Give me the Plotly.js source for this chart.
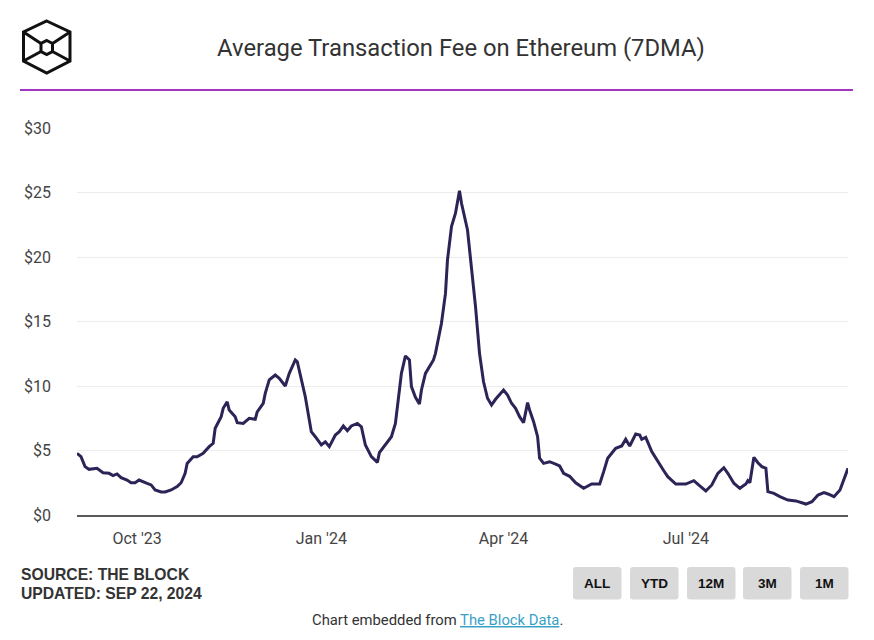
<!DOCTYPE html>
<html>
<head>
<meta charset="utf-8">
<script src="https://cdn.plot.ly/plotly-3.0.1.min.js"></script>
<style>
  html, body { margin: 0; padding: 0; background: #ffffff; }
  #chart { width: 874px; height: 640px; }
</style>
</head>
<body>
<div id="chart"></div>
<script>
// ---- Data ----
const dates = [
"2023-09-01","2023-09-03","2023-09-05","2023-09-07","2023-09-11","2023-09-14","2023-09-17","2023-09-19","2023-09-21","2023-09-23",
"2023-09-26","2023-09-28","2023-09-30","2023-10-02","2023-10-06","2023-10-08","2023-10-10","2023-10-13","2023-10-15","2023-10-18",
"2023-10-21","2023-10-23","2023-10-25","2023-10-26","2023-10-29","2023-10-31","2023-11-03","2023-11-06","2023-11-08","2023-11-09",
"2023-11-12","2023-11-13","2023-11-15","2023-11-16","2023-11-19","2023-11-20","2023-11-23","2023-11-24","2023-11-26","2023-11-29",
"2023-11-30","2023-12-03","2023-12-04","2023-12-06","2023-12-09","2023-12-11","2023-12-14","2023-12-16","2023-12-17","2023-12-19",
"2023-12-20","2023-12-21","2023-12-23","2023-12-24","2023-12-26","2023-12-27","2023-12-29","2024-01-01","2024-01-03","2024-01-05",
"2024-01-08","2024-01-10","2024-01-12","2024-01-14","2024-01-16","2024-01-19","2024-01-21","2024-01-23","2024-01-26","2024-01-29",
"2024-01-30","2024-02-02","2024-02-05","2024-02-07","2024-02-09","2024-02-10","2024-02-12","2024-02-14","2024-02-15","2024-02-17",
"2024-02-19","2024-02-20","2024-02-22","2024-02-26","2024-02-27","2024-03-01","2024-03-03","2024-03-04","2024-03-06","2024-03-08",
"2024-03-10","2024-03-11","2024-03-14","2024-03-16","2024-03-18","2024-03-20","2024-03-22","2024-03-24","2024-03-26","2024-03-28",
"2024-03-30","2024-04-01","2024-04-03","2024-04-05","2024-04-07","2024-04-09","2024-04-11","2024-04-13","2024-04-14","2024-04-16",
"2024-04-18","2024-04-19","2024-04-21","2024-04-24","2024-04-27","2024-04-29","2024-05-01","2024-05-04","2024-05-07","2024-05-09",
"2024-05-11","2024-05-15","2024-05-19","2024-05-21","2024-05-23","2024-05-27","2024-05-30","2024-06-01","2024-06-03","2024-06-06",
"2024-06-08","2024-06-09","2024-06-11","2024-06-14","2024-06-17","2024-06-20","2024-06-22","2024-06-26","2024-07-01","2024-07-05",
"2024-07-08","2024-07-11","2024-07-14","2024-07-17","2024-07-20","2024-07-22","2024-07-25","2024-07-28","2024-07-31","2024-08-01",
"2024-08-02","2024-08-04","2024-08-06","2024-08-08","2024-08-10","2024-08-11","2024-08-14","2024-08-17","2024-08-21","2024-08-25",
"2024-08-30","2024-09-02","2024-09-05","2024-09-08","2024-09-10","2024-09-13","2024-09-16","2024-09-18","2024-09-20"
];
const avgFee = [
4.78,4.52,3.75,3.54,3.62,3.28,3.23,3.05,3.18,2.90,
2.71,2.50,2.50,2.71,2.45,2.33,1.94,1.78,1.78,1.94,
2.20,2.50,3.23,4.00,4.52,4.52,4.78,5.30,5.56,6.72,
7.62,8.27,8.78,8.14,7.62,7.16,7.10,7.23,7.49,7.42,
8.00,8.66,9.43,10.47,10.85,10.60,10.00,10.98,11.37,12.02,
11.88,11.24,9.95,9.17,7.36,6.46,6.07,5.43,5.68,5.30,
6.20,6.46,6.90,6.53,6.90,7.10,6.84,5.43,4.52,4.08,
4.83,5.43,6.07,7.10,9.95,10.98,12.33,12.02,9.95,9.12,
8.60,9.69,10.98,12.02,12.53,14.86,17.18,19.77,22.35,23.39,
25.14,24.16,22.09,19.25,16.15,12.53,10.33,9.05,8.53,8.97,
9.30,9.69,9.30,8.66,8.27,7.62,7.16,8.71,8.14,7.23,
6.07,4.40,4.00,4.13,3.95,3.80,3.23,3.00,2.50,2.25,
2.07,2.40,2.40,3.36,4.40,5.17,5.35,5.87,5.35,6.28,
6.20,5.87,6.02,4.91,4.13,3.43,2.97,2.40,2.40,2.66,
2.25,1.86,2.33,3.23,3.67,3.23,2.46,2.07,2.40,2.66,
2.50,4.47,4.05,3.75,3.62,1.81,1.68,1.42,1.16,1.09,
0.85,1.03,1.55,1.73,1.63,1.42,1.94,2.71,3.62
];
const xTickDates = ["2023-10-01","2024-01-01","2024-04-01","2024-07-01"];
const xTickLabels = ["Oct '23","Jan '24","Apr '24","Jul '24"];
const yTickValues = [0,5,10,15,20,25,30];
const yTickLabels = ["$0","$5","$10","$15","$20","$25","$30"];
const rangeButtons = ["ALL","YTD","12M","3M","1M"];

const titleText = "Average Transaction Fee on Ethereum (7DMA)";
const sourceLines = ["SOURCE: THE BLOCK","UPDATED: SEP 22, 2024"];

// ---- Layout geometry (pixels -> paper) ----
const W = 874, H = 640;
const M = {l: 77, r: 26, t: 128, b: 125};
const PW = W - M.l - M.r, PH = H - M.t - M.b;
const px = x => (x - M.l) / PW;
const py = y => (H - M.b - y) / PH;
const pt = (x, y) => px(x).toFixed(5) + "," + py(y).toFixed(5);

function polyPath(points, close) {
  let s = "M" + pt(points[0][0], points[0][1]);
  for (let i = 1; i < points.length; i++) s += " L" + pt(points[i][0], points[i][1]);
  return s + (close ? " Z" : "");
}
function roundRect(x0, y0, x1, y1, r) {
  return "M" + pt(x0 + r, y0) + " L" + pt(x1 - r, y0) + " Q" + pt(x1, y0) + " " + pt(x1, y0 + r) +
         " L" + pt(x1, y1 - r) + " Q" + pt(x1, y1) + " " + pt(x1 - r, y1) +
         " L" + pt(x0 + r, y1) + " Q" + pt(x0, y1) + " " + pt(x0, y1 - r) +
         " L" + pt(x0, y0 + r) + " Q" + pt(x0, y0) + " " + pt(x0 + r, y0) + " Z";
}

const shapes = [];
const annotations = [];

// purple rule under the title
shapes.push({type: "line", xref: "paper", yref: "paper", x0: px(20), x1: px(853), y0: py(90), y1: py(90),
  line: {color: "#a335c4", width: 2}});

// logo (cube-like hexagon)
const logoLine = {color: "#111111", width: 3};
const outer = [[46.7,21],[70,32],[70,61],[46.7,73],[23.5,61],[23.5,32]];
const inner = [[46.7,40.5],[52.5,43.5],[52.5,51.5],[46.7,54.5],[41,51.5],[41,43.5]];
shapes.push({type: "path", xref: "paper", yref: "paper", path: polyPath(outer, true), line: logoLine});
shapes.push({type: "path", xref: "paper", yref: "paper", path: polyPath(inner, true), line: logoLine});
shapes.push({type: "path", xref: "paper", yref: "paper", path: polyPath([outer[5], inner[5]], false), line: logoLine});
shapes.push({type: "path", xref: "paper", yref: "paper", path: polyPath([outer[1], inner[1]], false), line: logoLine});
shapes.push({type: "path", xref: "paper", yref: "paper", path: polyPath([outer[4], inner[4]], false), line: logoLine});
shapes.push({type: "path", xref: "paper", yref: "paper", path: polyPath([outer[2], inner[2]], false), line: logoLine});

// range buttons
const btnX0 = [573, 630, 687, 743, 800];
rangeButtons.forEach((label, i) => {
  const x0 = btnX0[i], x1 = x0 + 48.5, y0 = 567, y1 = 599.5;
  shapes.push({type: "path", xref: "paper", yref: "paper", path: roundRect(x0, y0, x1, y1, 3),
    fillcolor: "#d9d9d9", line: {width: 0}});
  annotations.push({xref: "paper", yref: "paper", x: px((x0 + x1) / 2), y: py((y0 + y1) / 2),
    xanchor: "center", yanchor: "middle", showarrow: false, text: "<b>" + label + "</b>",
    font: {family: "Liberation Sans, Arial, sans-serif", size: 13.5, color: "#111111"}});
});

// source lines
sourceLines.forEach((t, i) => {
  annotations.push({xref: "paper", yref: "paper", x: px(19), y: py(574 + i * 19.5),
    xanchor: "left", yanchor: "middle", showarrow: false, text: "<b>" + t + "</b>",
    font: {family: "Liberation Sans, Arial, sans-serif", size: 15.7, color: "#333333"}});
});

// footer
annotations.push({xref: "paper", yref: "paper", x: px(437), y: py(620), xanchor: "center", yanchor: "middle",
  showarrow: false,
  text: "Chart embedded from <span style=\"color:#3a9fc6;text-decoration:underline\">The Block Data</span>.",
  font: {family: "Roboto, sans-serif", size: 14.8, color: "#333333"}});

const trace = {
  x: dates, y: avgFee, type: "scatter", mode: "lines",
  line: {color: "#2b2456", width: 3, shape: "linear"},
  hoverinfo: "skip"
};

const layout = {
  width: W, height: H,
  margin: M,
  paper_bgcolor: "#ffffff", plot_bgcolor: "#ffffff",
  showlegend: false,
  title: {text: titleText, xref: "container", yref: "container", x: 461 / W, y: 1 - 48 / H,
    xanchor: "center", yanchor: "middle",
    font: {family: "Roboto, sans-serif", size: 23.8, color: "#333333"}},
  xaxis: {
    type: "date",
    autorange: true,
    tickmode: "array", tickvals: xTickDates, ticktext: xTickLabels,
    showgrid: false, zeroline: false,
    showline: true, linecolor: "#5a5a5a", linewidth: 2,
    ticks: "", ticklabelstandoff: 8,
    tickfont: {family: "Roboto, sans-serif", size: 16, color: "#444444"}
  },
  yaxis: {
    range: [0, 30],
    tickmode: "array", tickvals: yTickValues, ticktext: yTickLabels,
    showgrid: true, gridcolor: "#ececec", gridwidth: 1,
    zeroline: false, showline: false,
    ticks: "", ticklabelstandoff: 25,
    tickfont: {family: "Roboto, sans-serif", size: 16, color: "#444444"}
  },
  shapes: shapes,
  annotations: annotations
};

Plotly.newPlot("chart", [trace], layout, {displayModeBar: false, staticPlot: true});
</script>
</body>
</html>
